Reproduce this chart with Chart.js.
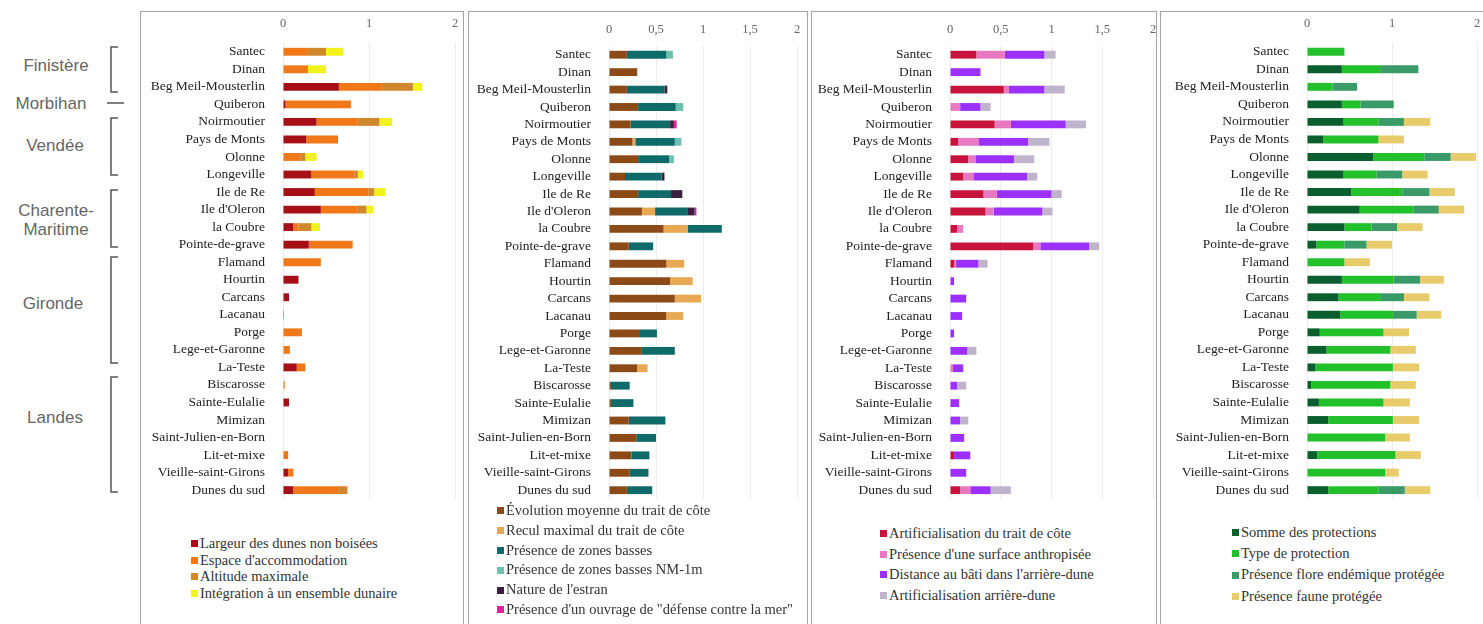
<!DOCTYPE html>
<html>
<head>
<meta charset="utf-8">
<script src="https://cdn.jsdelivr.net/npm/chart.js@4.4.1/dist/chart.umd.min.js"></script>
<style>
  body { margin: 0; background: #fff; width: 1483px; height: 624px; overflow: hidden; position: relative; }
  .box { position: absolute; top: 11px; height: 700px; border: 1.5px solid #a3a3a3; border-bottom: none; box-sizing: border-box; }
  .wrap { position: absolute; top: 12px; }
  .region { position: absolute; font-family: "Liberation Sans", Arial, sans-serif; font-size: 17px; color: #666; text-align: center; line-height: 19px; transform: translate(-50%, -50%); white-space: nowrap; }
  .legend { position: absolute; font-family: "Liberation Serif", "Times New Roman", serif; font-size: 14.5px; color: #333; white-space: nowrap; }
  .legend div { display: flex; align-items: center; }
  .legend span { display: inline-block; width: 7px; height: 7px; margin-right: 2px; }
</style>
</head>
<body>
<div class="box" style="left:140px;width:324px"></div>
<div class="box" style="left:468px;width:340px"></div>
<div class="box" style="left:811px;width:346px"></div>
<div class="box" style="left:1160px;width:330px"></div>

<svg width="140" height="624" style="position:absolute;left:0;top:0" fill="none" stroke="#555" stroke-width="1.5">
  <path d="M118 47 H111 V92 H118"/>
  <path d="M107 103 H124"/>
  <path d="M118 118 H111 V175 H118"/>
  <path d="M118 190 H111 V247 H118"/>
  <path d="M118 257 H111 V363 H118"/>
  <path d="M118 377 H111 V492 H118"/>
</svg>
<div class="region" style="left:56px;top:65px">Finistère</div>
<div class="region" style="left:51px;top:103px">Morbihan</div>
<div class="region" style="left:55px;top:145px">Vendée</div>
<div class="region" style="left:56px;top:220px">Charente-<br>Maritime</div>
<div class="region" style="left:53px;top:303px">Gironde</div>
<div class="region" style="left:55px;top:417px">Landes</div>

<div class="wrap" style="left:141px"><canvas id="c1" width="322" height="505"></canvas></div>
<div class="wrap" style="left:469px"><canvas id="c2" width="338" height="505"></canvas></div>
<div class="wrap" style="left:812px"><canvas id="c3" width="347" height="505"></canvas></div>
<div class="wrap" style="left:1161px"><canvas id="c4" width="322" height="505"></canvas></div>

<div class="legend" id="l1" style="left:191px;top:535px;line-height:16.7px"></div>
<div class="legend" id="l2" style="left:497px;top:501px;line-height:19.8px"></div>
<div class="legend" id="l3" style="left:880px;top:523px;line-height:20.7px"></div>
<div class="legend" id="l4" style="left:1232px;top:522px;line-height:21.2px"></div>

<script>
// sites du littoral
var sites = ['Santec', 'Dinan', 'Beg Meil-Mousterlin', 'Quiberon', 'Noirmoutier', 'Pays de Monts', 'Olonne',
    'Longeville', 'Ile de Re', "Ile d'Oleron", 'la Coubre', 'Pointe-de-grave', 'Flamand', 'Hourtin', 'Carcans',
    'Lacanau', 'Porge', 'Lege-et-Garonne', 'La-Teste', 'Biscarosse', 'Sainte-Eulalie', 'Mimizan',
    'Saint-Julien-en-Born', 'Lit-et-mixe', 'Vieille-saint-Girons', 'Dunes du sud'];

// panneau 1
var largeur     = [0, 0, 0.65, 0.03, 0.39, 0.27, 0, 0.33, 0.37, 0.44, 0.12, 0.30, 0, 0.18, 0.07, 0.01, 0, 0, 0.16, 0, 0.07, 0, 0, 0, 0.06, 0.12];
var espace      = [0.29, 0.29, 0.50, 0.76, 0.48, 0.37, 0.20, 0.50, 0.62, 0.43, 0.06, 0.51, 0.44, 0, 0, 0, 0.22, 0.08, 0.10, 0.02, 0, 0, 0, 0.06, 0.06, 0.52];
var altitude    = [0.21, 0, 0.36, 0, 0.25, 0, 0.06, 0.04, 0.07, 0.10, 0.15, 0, 0, 0, 0, 0, 0, 0, 0, 0, 0, 0, 0, 0, 0, 0.11];
var integration = [0.20, 0.21, 0.11, 0, 0.15, 0, 0.13, 0.06, 0.13, 0.08, 0.10, 0, 0, 0, 0, 0, 0, 0, 0, 0, 0, 0, 0, 0, 0, 0];

// panneau 2
var evolution   = [0.19, 0.30, 0.19, 0.31, 0.23, 0.25, 0.31, 0.17, 0.31, 0.35, 0.58, 0.21, 0.61, 0.65, 0.70, 0.61, 0.33, 0.35, 0.30, 0.02, 0.02, 0.21, 0.29, 0.24, 0.22, 0.19];
var recul       = [0, 0, 0, 0, 0, 0.03, 0, 0, 0, 0.14, 0.26, 0, 0.19, 0.24, 0.28, 0.18, 0, 0, 0.11, 0, 0, 0, 0, 0, 0, 0];
var zonesBasses = [0.42, 0, 0.40, 0.40, 0.42, 0.42, 0.33, 0.39, 0.35, 0.35, 0.36, 0.26, 0, 0, 0, 0, 0.18, 0.35, 0, 0.20, 0.24, 0.39, 0.21, 0.19, 0.20, 0.27];
var zonesNM     = [0.07, 0, 0, 0.08, 0, 0.07, 0.05, 0, 0, 0, 0, 0, 0, 0, 0, 0, 0, 0, 0, 0, 0, 0, 0, 0, 0, 0];
var nature      = [0, 0, 0.03, 0, 0.04, 0, 0, 0.03, 0.12, 0.07, 0, 0, 0, 0, 0, 0, 0, 0, 0, 0, 0, 0, 0, 0, 0, 0];
var ouvrage     = [0, 0, 0, 0, 0.03, 0, 0, 0, 0, 0.02, 0, 0, 0, 0, 0, 0, 0, 0, 0, 0, 0, 0, 0, 0, 0, 0];

// panneau 3
var artifTrait  = [0.26, 0, 0.53, 0, 0.44, 0.08, 0.18, 0.13, 0.33, 0.35, 0.07, 0.82, 0.04, 0, 0, 0, 0, 0, 0, 0, 0, 0, 0, 0.04, 0, 0.10];
var surface     = [0.28, 0, 0.05, 0.10, 0.16, 0.20, 0.07, 0.10, 0.13, 0.08, 0.06, 0.07, 0.02, 0, 0, 0, 0, 0, 0.03, 0, 0, 0, 0, 0, 0, 0.10];
var distance    = [0.39, 0.30, 0.35, 0.20, 0.54, 0.49, 0.38, 0.53, 0.54, 0.48, 0, 0.48, 0.22, 0.04, 0.16, 0.12, 0.04, 0.17, 0.10, 0.07, 0.09, 0.10, 0.14, 0.16, 0.16, 0.20];
var artifArr    = [0.11, 0, 0.20, 0.10, 0.20, 0.21, 0.20, 0.10, 0.10, 0.10, 0, 0.10, 0.09, 0, 0, 0, 0, 0.09, 0, 0.09, 0, 0.08, 0, 0, 0, 0.20];

// panneau 4
var somme       = [0, 0.41, 0, 0.41, 0.43, 0.19, 0.78, 0.43, 0.52, 0.62, 0.44, 0.11, 0, 0.41, 0.37, 0.39, 0.15, 0.23, 0.10, 0.05, 0.14, 0.25, 0, 0.12, 0, 0.25];
var typeProt    = [0.44, 0.45, 0.30, 0.22, 0.41, 0.65, 0.60, 0.39, 0.60, 0.63, 0.32, 0.33, 0.44, 0.61, 0.49, 0.62, 0.75, 0.75, 0.91, 0.93, 0.76, 0.76, 0.92, 0.92, 0.92, 0.59];
var flore       = [0, 0.45, 0.29, 0.39, 0.30, 0, 0.31, 0.30, 0.32, 0.30, 0.30, 0.26, 0, 0.31, 0.28, 0.28, 0, 0, 0, 0, 0, 0, 0, 0, 0, 0.31];
var faune       = [0, 0, 0, 0, 0.31, 0.30, 0.30, 0.30, 0.30, 0.30, 0.30, 0.30, 0.30, 0.28, 0.30, 0.29, 0.30, 0.30, 0.31, 0.30, 0.31, 0.31, 0.29, 0.30, 0.16, 0.30];

var serif = '"Liberation Serif", "Times New Roman", serif';

function ds(label, data, color) {
    return { label: label, data: data, backgroundColor: color, barPercentage: 0.45, categoryPercentage: 1 };
}

// one panel
function makePanel(id, legendId, datasets, step, yWidth, topH, padRight, tickLen) {
    var ctx = document.getElementById(id);
    new Chart(ctx, {
        type: 'bar',
        data: { labels: sites, datasets: datasets },
        options: {
            indexAxis: 'y',
            responsive: false,
            animation: false,
            layout: { padding: { top: 0, left: 0, right: padRight, bottom: 0 } },
            plugins: { legend: { display: false }, tooltip: { enabled: false } },
            scales: {
                x: {
                    position: 'top', stacked: true, min: 0, max: 2,
                    ticks: { stepSize: step, padding: 2, color: '#666', font: { family: serif, size: 12.5 },
                        callback: function (v) { return String(v).replace('.', ','); } },
                    grid: { color: '#ececec', tickLength: tickLen, tickColor: 'rgba(0,0,0,0)' },
                    border: { display: false },
                    afterFit: function (s) { s.height = topH; }
                },
                y: {
                    stacked: true,
                    ticks: { padding: 10, autoSkip: false, color: '#222', font: { family: serif, size: 13.5 } },
                    grid: { display: false },
                    border: { display: false },
                    afterFit: function (s) { s.width = yWidth; }
                }
            }
        }
    });

    // legend below
    var html = '';
    datasets.forEach(function (d) {
        html += '<div><span style="background:' + d.backgroundColor + '"></span>' + d.label + '</div>';
    });
    document.getElementById(legendId).innerHTML = html;
}

makePanel('c1', 'l1', [
    ds('Largeur des dunes non boisées', largeur, '#a50f15'),
    ds("Espace d'accommodation", espace, '#f07818'),
    ds('Altitude maximale', altitude, '#d0882c'),
    ds('Intégration à un ensemble dunaire', integration, '#f2f21e')
], 1, 142, 31, 8, 10);

makePanel('c2', 'l2', [
    ds('Évolution moyenne du trait de côte', evolution, '#8c4a16'),
    ds('Recul maximal du trait de côte', recul, '#e9a954'),
    ds('Présence de zones basses', zonesBasses, '#0e6b6a'),
    ds('Présence de zones basses NM-1m', zonesNM, '#6cc0b0'),
    ds("Nature de l'estran", nature, '#3a1f3f'),
    ds('Présence d\'un ouvrage de "défense contre la mer"', ouvrage, '#e020a0')
], 0.5, 140, 34, 10, 7);

makePanel('c3', 'l3', [
    ds('Artificialisation du trait de côte', artifTrait, '#c8143c'),
    ds("Présence d'une surface anthropisée", surface, '#e878c0'),
    ds("Distance au bâti dans l'arrière-dune", distance, '#9b30ff'),
    ds('Artificialisation arrière-dune', artifArr, '#c0b4cc')
], 0.5, 138, 34, 6, 7);

makePanel('c4', 'l4', [
    ds('Somme des protections', somme, '#0b5e2e'),
    ds('Type de protection', typeProt, '#22c02a'),
    ds('Présence flore endémique protégée', flore, '#3a9a68'),
    ds('Présence faune protégée', faune, '#e8cc6c')
], 1, 146, 31, 6, 10);
</script>
</body>
</html>
